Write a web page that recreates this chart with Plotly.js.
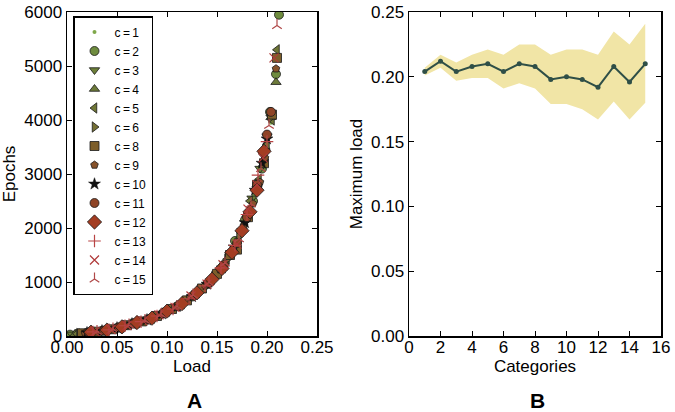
<!DOCTYPE html>
<html>
<head>
<meta charset="utf-8">
<script src="https://cdn.plot.ly/plotly-3.0.1.min.js"></script>
<style>
  html, body { margin: 0; padding: 0; background: #fff; }
  #chart { width: 675px; height: 412px; }
</style>
</head>
<body>
<div id="chart"></div>
<script>
// ---------- Panel A data: Epochs vs Load, one series per c ----------
const loadC1   = [0.000,0.004,0.008,0.012,0.017,0.025,0.034,0.042,0.051,0.059,0.068,0.076,0.085,0.093,0.102,0.110,0.119,0.127,0.136,0.144,0.153,0.161,0.170,0.178,0.187,0.195,0.199,0.204];
const epochsC1 = [20,25,30,40,50,70,95,120,150,185,230,270,320,380,470,540,640,740,880,1020,1220,1450,1760,2150,2600,3200,3500,3950];
const loadC2   = [0.003,0.010,0.020,0.035,0.050,0.065,0.080,0.095,0.110,0.125,0.140,0.155,0.168,0.178,0.186,0.195,0.203,0.209,0.212];
const epochsC2 = [25,40,60,95,150,230,300,410,550,730,960,1270,1760,2150,2500,3100,4150,4850,5950];
const loadC3   = [0.005,0.015,0.030,0.045,0.060,0.075,0.090,0.105,0.120,0.135,0.150,0.163,0.175,0.185,0.193,0.200,0.204];
const epochsC3 = [30,45,80,130,200,270,370,500,660,860,1140,1500,1950,2550,3100,3700,4050];
const loadC4   = [0.008,0.020,0.035,0.050,0.065,0.080,0.095,0.110,0.125,0.140,0.155,0.168,0.180,0.190,0.198,0.204,0.209];
const epochsC4 = [35,55,90,145,220,300,400,540,740,950,1260,1640,2250,2800,3500,4050,4700];
const loadC5   = [0.010,0.025,0.040,0.055,0.070,0.085,0.100,0.115,0.130,0.145,0.160,0.172,0.183,0.192,0.200,0.205,0.210];
const epochsC5 = [40,65,110,170,250,330,460,600,800,1050,1420,1800,2500,2900,3550,4000,5300];
const loadC6   = [0.012,0.027,0.042,0.057,0.072,0.087,0.102,0.117,0.132,0.147,0.160,0.172,0.183,0.191,0.198,0.204];
const epochsC6 = [45,75,115,180,255,350,470,620,830,1100,1420,1850,2300,2800,3450,4050];
const loadC8   = [0.015,0.030,0.045,0.060,0.075,0.090,0.105,0.120,0.135,0.150,0.163,0.170,0.181,0.190,0.197,0.205,0.210];
const epochsC8 = [50,80,125,200,270,370,500,660,880,1150,1500,1600,2200,2800,3200,4100,5150];
const loadC9   = [0.018,0.033,0.048,0.063,0.078,0.093,0.108,0.123,0.138,0.153,0.166,0.177,0.186,0.193,0.198,0.209];
const epochsC9 = [55,90,140,215,290,400,530,720,930,1230,1600,2050,2450,2850,3300,4950];
const loadC10   = [0.020,0.035,0.050,0.065,0.080,0.095,0.110,0.125,0.140,0.155,0.167,0.178,0.188,0.195,0.200];
const epochsC10 = [60,95,150,225,300,410,550,730,960,1260,1650,2100,2700,3200,3650];
const loadC11   = [0.022,0.037,0.052,0.067,0.082,0.097,0.112,0.127,0.142,0.157,0.170,0.180,0.190,0.196,0.200,0.204];
const epochsC11 = [65,100,160,235,310,430,560,760,990,1320,1720,2200,2800,3400,3730,4150];
const loadC12   = [0.024,0.040,0.055,0.070,0.085,0.100,0.115,0.130,0.145,0.155,0.165,0.175,0.183,0.190,0.197];
const epochsC12 = [70,110,170,250,330,460,600,800,1050,1250,1550,1950,2300,2700,3420];
const loadC13   = [0.026,0.042,0.058,0.074,0.090,0.106,0.122,0.138,0.154,0.168,0.180,0.191,0.200];
const epochsC13 = [75,115,190,265,370,500,690,930,1260,1680,2250,2980,3600];
const loadC14   = [0.028,0.044,0.060,0.076,0.092,0.108,0.124,0.140,0.156,0.170,0.181,0.190,0.196,0.207];
const epochsC14 = [80,120,195,280,390,530,740,960,1320,1700,2350,2800,3300,5150];
const loadC15   = [0.030,0.046,0.062,0.078,0.094,0.110,0.126,0.142,0.158,0.172,0.184,0.194,0.202,0.210];
const epochsC15 = [85,130,205,290,400,550,760,990,1350,1800,2450,3100,3900,5750];

const seriesNames = ["c\u2009=\u20091","c\u2009=\u20092","c\u2009=\u20093","c\u2009=\u20094","c\u2009=\u20095","c\u2009=\u20096","c\u2009=\u20098","c\u2009=\u20099","c\u2009=\u200910","c\u2009=\u200911","c\u2009=\u200912","c\u2009=\u200913","c\u2009=\u200914","c\u2009=\u200915"];
const seriesLoads  = [loadC1,loadC2,loadC3,loadC4,loadC5,loadC6,loadC8,loadC9,loadC10,loadC11,loadC12,loadC13,loadC14,loadC15];
const seriesEpochs = [epochsC1,epochsC2,epochsC3,epochsC4,epochsC5,epochsC6,epochsC8,epochsC9,epochsC10,epochsC11,epochsC12,epochsC13,epochsC14,epochsC15];

// ---------- Panel B data ----------
const categories  = [1,2,3,4,5,6,7,8,9,10,11,12,13,14,15];
const maxLoadMean = [0.204,0.212,0.204,0.208,0.210,0.204,0.210,0.208,0.198,0.200,0.198,0.192,0.208,0.196,0.210];
const maxLoadHigh = [0.207,0.217,0.211,0.217,0.221,0.217,0.225,0.225,0.217,0.221,0.221,0.217,0.235,0.225,0.241];
const maxLoadLow  = [0.201,0.207,0.197,0.199,0.199,0.191,0.195,0.191,0.179,0.179,0.175,0.167,0.181,0.167,0.180];

// ---------- Styles ----------
const styles = [
  {symbol:'circle',         size:4,  color:'#7fa84a', lw:0,   lc:'#7fa84a'},
  {symbol:'circle',         size:9,  color:'#6f8c3f', lw:0.8, lc:'#1a1a1a'},
  {symbol:'triangle-down',  size:9,  color:'#6c7f38', lw:0.8, lc:'#1a1a1a'},
  {symbol:'triangle-up',    size:9,  color:'#6d7a3a', lw:0.8, lc:'#1a1a1a'},
  {symbol:'triangle-left',  size:9,  color:'#6f7636', lw:0.8, lc:'#1a1a1a'},
  {symbol:'triangle-right', size:9,  color:'#757034', lw:0.8, lc:'#1a1a1a'},
  {symbol:'square',         size:9,  color:'#7d5e2a', lw:0.8, lc:'#1a1a1a'},
  {symbol:'pentagon',       size:8,  color:'#86522a', lw:0.8, lc:'#1a1a1a'},
  {symbol:'star',           size:9,  color:'#111111', lw:0.5, lc:'#111111'},
  {symbol:'circle',         size:9,  color:'#8f4426', lw:0.8, lc:'#1a1a1a'},
  {symbol:'diamond',        size:11, color:'#a33d22', lw:0.8, lc:'#1a1a1a'},
  {symbol:'cross-thin-open',size:9,  color:'#b84444', lw:1.2, lc:'#b84444'},
  {symbol:'x-thin-open',    size:9,  color:'#b03a3a', lw:1.2, lc:'#b03a3a'},
  {symbol:'y-up-open',      size:8,  color:'#b04848', lw:1.2, lc:'#b04848'}
];

const traces = [];
seriesNames.forEach((name, i) => {
  const s = styles[i];
  traces.push({
    type: 'scatter', mode: 'markers', name: name,
    x: seriesLoads[i], y: seriesEpochs[i],
    xaxis: 'x', yaxis: 'y',
    marker: {symbol: s.symbol, size: s.size, color: s.color,
             line: {width: s.lw, color: s.lc}},
    hoverinfo: 'x+y+name'
  });
});

traces.push({
  type: 'scatter', mode: 'lines', x: categories, y: maxLoadHigh,
  xaxis: 'x2', yaxis: 'y2', line: {width: 0, color: 'rgba(0,0,0,0)'},
  showlegend: false, hoverinfo: 'skip'
});
traces.push({
  type: 'scatter', mode: 'lines', x: categories, y: maxLoadLow,
  xaxis: 'x2', yaxis: 'y2', line: {width: 0, color: 'rgba(0,0,0,0)'},
  fill: 'tonexty', fillcolor: '#f1e5a6',
  showlegend: false, hoverinfo: 'skip'
});
traces.push({
  type: 'scatter', mode: 'lines+markers', x: categories, y: maxLoadMean,
  xaxis: 'x2', yaxis: 'y2',
  line: {width: 2, color: '#2f4f47'},
  marker: {size: 5, color: '#2f4f47'},
  showlegend: false
});

const font = {family: 'Liberation Sans, Arial, sans-serif', color: '#000'};
const axisCommon = {
  showline: true, linecolor: '#000', linewidth: 1.5, mirror: 'ticks',
  ticks: 'inside', ticklen: 5, tickwidth: 1, tickcolor: '#000',
  showgrid: false, zeroline: false,
  tickfont: {family: font.family, size: 17, color: '#000'}
};
const titleFont = {family: font.family, size: 17, color: '#000'};

const layout = {
  width: 675, height: 412,
  margin: {l: 0, r: 0, t: 0, b: 0},
  paper_bgcolor: '#fff', plot_bgcolor: '#fff',
  font: font,
  showlegend: true,
  legend: {
    x: 73/675, y: 1 - 16/412, xanchor: 'left', yanchor: 'top',
    traceorder: 'normal',
    bgcolor: '#fff', bordercolor: '#000', borderwidth: 1.5,
    font: {family: font.family, size: 12, color: '#000'},
    itemwidth: 30
  },
  xaxis: Object.assign({}, axisCommon, {
    domain: [67/675, 317/675], range: [0, 0.25], dtick: 0.05, tickformat: '.2f',
    anchor: 'y', ticklabelstandoff: -5,
    title: {text: 'Load', font: titleFont, standoff: 0}
  }),
  yaxis: Object.assign({}, axisCommon, {
    domain: [1 - 336/412, 1 - 12/412], range: [0, 6000], dtick: 1000,
    anchor: 'x',
    title: {text: 'Epochs', font: titleFont, standoff: 4}
  }),
  xaxis2: Object.assign({}, axisCommon, {
    domain: [409/675, 661/675], range: [0, 16], dtick: 2,
    anchor: 'y2', ticklabelstandoff: -5,
    title: {text: 'Categories', font: titleFont, standoff: 0}
  }),
  yaxis2: Object.assign({}, axisCommon, {
    domain: [1 - 336/412, 1 - 12/412], range: [0, 0.25], dtick: 0.05, tickformat: '.2f',
    anchor: 'x2',
    title: {text: 'Maximum load', font: titleFont, standoff: 4}
  }),
  annotations: [
    {text: '<b>A</b>', xref: 'paper', yref: 'paper', x: 195/675, y: 1 - 400/412,
     xanchor: 'center', yanchor: 'middle',
     showarrow: false, font: {family: font.family, size: 21, color: '#000'}},
    {text: '<b>B</b>', xref: 'paper', yref: 'paper', x: 537/675, y: 1 - 400/412,
     xanchor: 'center', yanchor: 'middle',
     showarrow: false, font: {family: font.family, size: 21, color: '#000'}}
  ]
};

Plotly.newPlot('chart', traces, layout, {displayModeBar: false, staticPlot: true});
</script>
</body>
</html>
